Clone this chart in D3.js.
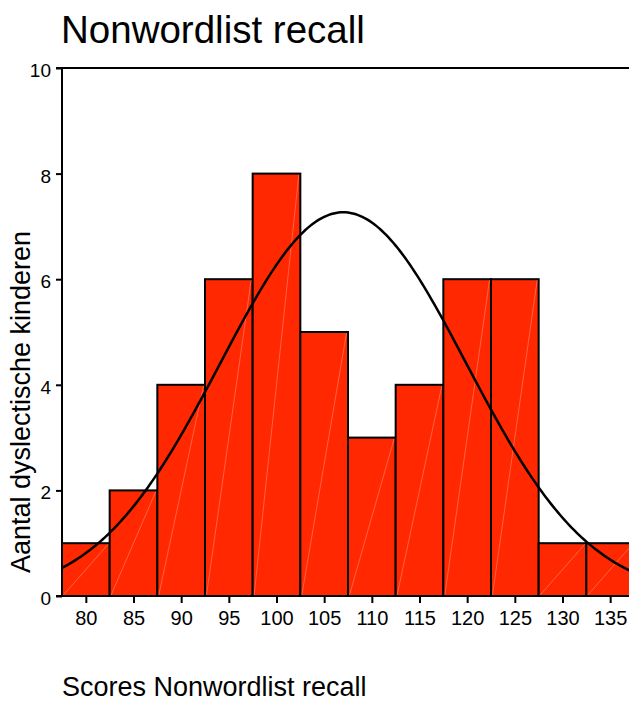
<!DOCTYPE html>
<html>
<head>
<meta charset="utf-8">
<script src="https://cdn.jsdelivr.net/npm/d3@7/dist/d3.min.js"></script>
<style>
  html, body { margin: 0; padding: 0; background: #fff; }
  svg { display: block; font-family: "Liberation Sans", Arial, sans-serif; }
</style>
</head>
<body>
<svg id="chart" width="629" height="702"></svg>
<script>
// Histogram of nonword-list recall scores (bin centres, bin width 5)
const binCenters = [80, 85, 90, 95, 100, 105, 110, 115, 120, 125, 130, 135];
const counts     = [1, 2, 4, 6, 8, 5, 3, 4, 6, 6, 1, 1];
const binWidth = 5;
// parameters of the overlaid normal curve (from the raw scores)
const fitMean = 107;
const fitSd = 12.9;
const xTicks = [80, 85, 90, 95, 100, 105, 110, 115, 120, 125, 130, 135];
const yTicks = [0, 2, 4, 6, 8, 10];
const title = "Nonwordlist recall";
const xTitle = "Scores Nonwordlist recall";
const yTitle = "Aantal dyslectische kinderen";

const svg = d3.select("#chart");
const plotLeft = 62, plotTop = 68, plotBottom = 596;
const FONT = "Liberation Sans, Arial, sans-serif";

const x = d3.scaleLinear().domain([77.5, 137.5]).range([plotLeft, 634]);
const y = d3.scaleLinear().domain([0, 10]).range([plotBottom, plotTop]);

const bars = binCenters.map((c, i) => ({ x0: c - binWidth / 2, x1: c + binWidth / 2, n: counts[i] }));

// Bars
const g = svg.append("g");
g.selectAll("rect.bar").data(bars).join("rect")
  .attr("class", "bar")
  .attr("x", d => x(d.x0))
  .attr("y", d => y(d.n))
  .attr("width", d => x(d.x1) - x(d.x0))
  .attr("height", d => y(0) - y(d.n))
  .attr("fill", "#ff2800")
  .attr("stroke", "#000")
  .attr("stroke-width", 2);

// faint diagonal seams inside each bar
g.selectAll("line.seam").data(bars).join("line")
  .attr("class", "seam")
  .attr("x1", d => x(d.x0) + 1.5)
  .attr("y1", y(0) - 1)
  .attr("x2", d => x(d.x1) - 1.5)
  .attr("y2", d => y(d.n) + 1)
  .attr("stroke", "#fff")
  .attr("stroke-opacity", 0.35)
  .attr("stroke-width", 0.8);

// Normal curve scaled to the histogram's counts
const total = d3.sum(counts);
const density = v => total * binWidth / (fitSd * Math.sqrt(2 * Math.PI)) * Math.exp(-0.5 * ((v - fitMean) / fitSd) ** 2);
const curveXs = d3.range(77.5, 137.6, 0.25);
svg.append("path")
  .datum(curveXs)
  .attr("d", d3.line().x(v => x(v)).y(v => y(density(v))))
  .attr("fill", "none")
  .attr("stroke", "#000")
  .attr("stroke-width", 2.5);

// Frame: top line and baseline
svg.append("line").attr("x1", plotLeft).attr("x2", 629).attr("y1", plotTop).attr("y2", plotTop)
  .attr("stroke", "#000").attr("stroke-width", 2);
svg.append("line").attr("x1", plotLeft).attr("x2", 629).attr("y1", plotBottom).attr("y2", plotBottom)
  .attr("stroke", "#000").attr("stroke-width", 2);

// Y axis
const yAxis = svg.append("g").attr("transform", `translate(${plotLeft},0)`)
  .call(d3.axisLeft(y).tickValues(yTicks).tickSize(6).tickPadding(5).tickFormat(d3.format("d")));
yAxis.attr("font-size", null).attr("font-family", null);
yAxis.select(".domain").attr("stroke-width", 2).attr("d", `M-6,${plotTop}H0V${plotBottom}H-6`);
yAxis.selectAll(".tick line").attr("stroke-width", 2);
yAxis.selectAll(".tick text").style("font-size", "19px").style("font-family", FONT)
  .attr("fill", "#000").attr("dy", "0.45em");

// X axis
const xAxis = svg.append("g").attr("transform", `translate(0,${plotBottom})`)
  .call(d3.axisBottom(x).tickValues(xTicks).tickSize(7).tickPadding(8).tickFormat(d3.format("d")));
xAxis.attr("font-size", null).attr("font-family", null);
xAxis.select(".domain").remove();
xAxis.selectAll(".tick line").attr("stroke-width", 2);
xAxis.selectAll(".tick text").style("font-size", "20px").style("font-family", FONT)
  .attr("fill", "#000");

// Titles
svg.append("text").attr("x", 61).attr("y", 43).style("font-size", "38.5px").attr("fill", "#000").text(title);
svg.append("text").attr("x", 62).attr("y", 696).style("font-size", "27px").attr("fill", "#000").text(xTitle);
svg.append("text")
  .attr("transform", `translate(30,${(232 + 572) / 2}) rotate(-90)`)
  .attr("text-anchor", "middle")
  .style("font-size", "27px").attr("fill", "#000").text(yTitle);
</script>
</body>
</html>
